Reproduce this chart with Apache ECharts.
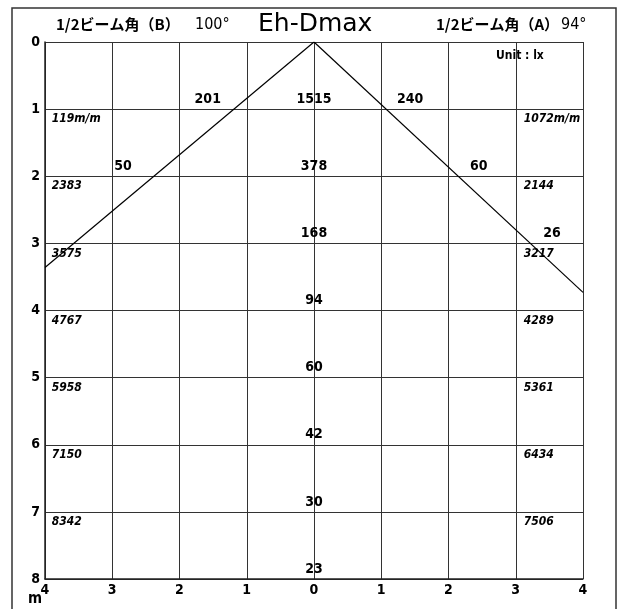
<!DOCTYPE html>
<html>
<head>
    <meta charset="utf-8">
    <title>Eh-Dmax</title>
    <script src="https://cdn.jsdelivr.net/npm/echarts@6.0.0/dist/echarts.min.js"></script>
    <style>
        html, body { margin: 0; padding: 0; background: #fff; }
        #main { width: 623px; height: 609px; }
    </style>
</head>
<body>
    <div id="main"></div>
    <script type="text/javascript">
        // 距離 (m) と照度 (lx)
        var distances = [1, 2, 3, 4, 5, 6, 7, 8];
        var centerLux = [1515, 378, 168, 94, 60, 42, 30, 23];
        // 照射径 (B側 / A側)
        var diaB = ['119m/m', '2383', '3575', '4767', '5958', '7150', '8342'];
        var diaA = ['1072m/m', '2144', '3217', '4289', '5361', '6434', '7506'];
        // 1/2ビーム角端の照度 [x, y, lx]
        var edgeLux = [[-1.58, 1, 201], [1.43, 1, 240], [-2.84, 2, 50], [2.45, 2, 60], [3.54, 3, 26]];
        // ビーム線
        var beamB = [[0, 0], [-4, 3.36]];
        var beamA = [[0, 0], [4, 3.73]];

        var FONT = "'Liberation Sans Narrow', 'DejaVu Sans Condensed', 'Noto Sans', sans-serif";
        var JP = "'Noto Sans CJK JP', sans-serif";

        var chart = echarts.init(document.getElementById('main'));

        var centerData = centerLux.map(function (v, i) { return [0, distances[i], String(v)]; });
        var diaBData = diaB.map(function (t, i) { return [-3.9, distances[i], t]; });
        var diaAData = diaA.map(function (t, i) { return [3.12, distances[i], t]; });
        var edgeData = edgeLux.map(function (e) { return [e[0], e[1], String(e[2])]; });

        function labelSeries(data, opts) {
            return {
                type: 'scatter',
                data: data,
                symbolSize: 0,
                silent: true,
                itemStyle: { opacity: 1 },
                label: Object.assign({
                    show: true,
                    formatter: function (p) { return p.value[2]; },
                    color: '#000',
                    textBorderWidth: 0,
                    fontFamily: FONT,
                    fontWeight: 'bold',
                    fontSize: 14
                }, opts)
            };
        }

        var option = {
            animation: false,
            grid: { left: 45, top: 42, width: 538, height: 537 },
            xAxis: {
                type: 'value',
                min: -4, max: 4, interval: 1,
                axisLine: { show: true, onZero: false, lineStyle: { color: '#222', width: 1.5 } },
                axisTick: { show: false },
                splitLine: { show: true, lineStyle: { color: '#333', width: 1 } },
                axisLabel: {
                    color: '#000', fontFamily: FONT, fontWeight: 'bold', fontSize: 14, margin: 4,
                    formatter: function (v) { return String(Math.abs(v)); }
                }
            },
            yAxis: {
                type: 'value',
                inverse: true,
                min: 0, max: 8, interval: 1,
                axisLine: { show: true, onZero: false, lineStyle: { color: '#222', width: 1.5 } },
                axisTick: { show: false },
                splitLine: { show: true, lineStyle: { color: '#333', width: 1 } },
                axisLabel: { color: '#000', fontFamily: FONT, fontWeight: 'bold', fontSize: 14, margin: 5 }
            },
            graphic: [
                { type: 'rect', shape: { x: 12, y: 8, width: 604, height: 640 }, style: { fill: 'none', stroke: '#333', lineWidth: 1.5 }, silent: true },
                { type: 'text', left: 56, top: 17, style: { text: '1/2ビーム角（B）', font: 'bold 15px ' + JP, fill: '#000' } },
                { type: 'text', left: 195, top: 17, style: { text: '100°', font: '16px ' + FONT, fill: '#000' } },
                { type: 'text', left: 258, top: 12, style: { text: 'Eh-Dmax', font: "25px 'DejaVu Sans', sans-serif", fill: '#000' } },
                { type: 'text', left: 436, top: 17, style: { text: '1/2ビーム角（A）', font: 'bold 15px ' + JP, fill: '#000' } },
                { type: 'text', left: 561, top: 17, style: { text: '94°', font: '16px ' + FONT, fill: '#000' } },
                { type: 'text', left: 496, top: 50, style: { text: 'Unit : lx', font: 'bold 12px ' + FONT, fill: '#000' } },
                { type: 'text', left: 28, top: 592, style: { text: 'm', font: 'bold 15px ' + FONT, fill: '#000' } }
            ],
            series: [
                {
                    type: 'line', data: beamB, symbol: 'none', silent: true,
                    lineStyle: { color: '#000', width: 1.2 }
                },
                {
                    type: 'line', data: beamA, symbol: 'none', silent: true,
                    lineStyle: { color: '#000', width: 1.2 }
                },
                labelSeries(centerData, { position: 'top', distance: 3 }),
                labelSeries(edgeData, { position: 'top', distance: 3 }),
                labelSeries(diaBData, { position: 'bottom', align: 'left', distance: 4, fontStyle: 'italic', fontSize: 12 }),
                labelSeries(diaAData, { position: 'bottom', align: 'left', distance: 4, fontStyle: 'italic', fontSize: 12 })
            ]
        };

        chart.setOption(option);
    </script>
</body>
</html>
